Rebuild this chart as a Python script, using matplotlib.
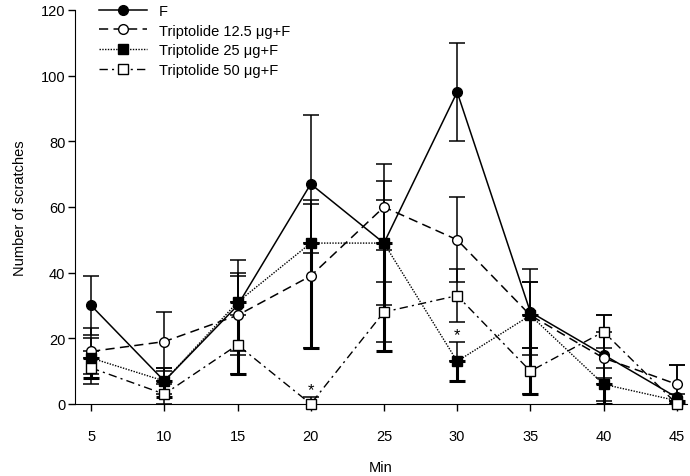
import matplotlib
matplotlib.use("Agg")
import matplotlib.pyplot as plt
from matplotlib.lines import Line2D

plt.rcParams['font.family'] = ['Liberation Sans', 'DejaVu Sans']

# time points (min)
minutes = [5, 10, 15, 20, 25, 30, 35, 40, 45]

# mean number of scratches and error
f_mean = [30, 7, 30, 67, 49, 95, 28, 15, 2]
f_err = [9, 4, 14, 21, 19, 15, 13, 7, 10]

t125_mean = [16, 19, 27, 39, 60, 50, 27, 14, 6]
t125_err = [7, 9, 12, 22, 13, 13, 10, 13, 6]

# 25 ug group: bars drawn downwards (thick) and upwards (thin)
t25_mean = [14, 7, 31, 49, 49, 13, 27, 6, 1]
t25_err_low = [6, 5, 22, 32, 33, 6, 24, 6, 1]
t25_err_up = [6, 4, 9, 13, 13, 6, 10, 5, 2]

t50_mean = [11, 3, 18, 0, 28, 33, 10, 22, 0]
t50_err = [5, 3, 9, 2, 9, 8, 7, 5, 1]

# significance marks
star_x = [20, 30]
star_y = [4.5, 21]

labels = ['F', 'Triptolide 12.5 \u03bcg+F', 'Triptolide 25 \u03bcg+F',
          'Triptolide 50 \u03bcg+F']

fig = plt.figure(figsize=(6.9, 4.77), dpi=100)
ax = fig.add_axes([0.1087, 0.151, 0.887, 0.826])

ls_125 = (0, (6, 3.5))
ls_25 = (0, (1, 1))
ls_50 = (0, (6, 3, 1.5, 3))


def clip_bars(eb):
    # keep markers unclipped but cut error bars at the axis
    for cap in eb[1]:
        cap.set_clip_on(True)
    for col in eb[2]:
        col.set_clip_on(True)


eb = ax.errorbar(minutes, f_mean, yerr=f_err, color='black', lw=1.1, ls='-',
                 marker='o', ms=7, mfc='black', mec='black', capsize=6,
                 elinewidth=1.1, capthick=1.1, clip_on=False, zorder=4)
clip_bars(eb)
eb = ax.errorbar(minutes, t125_mean, yerr=t125_err, color='black', lw=1.1,
                 ls=ls_125, marker='o', ms=7, mfc='white', mec='black',
                 capsize=6, elinewidth=1.1, capthick=1.1, clip_on=False,
                 zorder=4)
clip_bars(eb)
eb = ax.errorbar(minutes, t25_mean, yerr=[[0] * 9, t25_err_up], fmt='none',
                 ecolor='black', capsize=6, elinewidth=1.1, capthick=1.1,
                 zorder=3)
clip_bars(eb)
eb = ax.errorbar(minutes, t25_mean, yerr=[t25_err_low, [0] * 9],
                 color='black', lw=1.0, ls=ls_25, marker='s', ms=6.5,
                 mfc='black', mec='black', capsize=6, elinewidth=2.2,
                 capthick=2.2, clip_on=False, zorder=4)
clip_bars(eb)
eb = ax.errorbar(minutes, t50_mean, yerr=t50_err, color='black', lw=1.0,
                 ls=ls_50, marker='s', ms=6.5, mfc='white',
                 mec='black', capsize=6, elinewidth=1.1, capthick=1.1,
                 clip_on=False, zorder=4)
clip_bars(eb)

for x, y in zip(star_x, star_y):
    ax.text(x, y, '*', ha='center', va='center', fontsize=12)

ax.set_xlim(3.9, 45.7)
ax.set_ylim(0, 120)
ax.set_xticks(minutes)
ax.set_yticks(range(0, 121, 20))
ax.spines['top'].set_visible(False)
ax.spines['right'].set_visible(False)
ax.tick_params(direction='out', length=5, width=1, labelsize=10.5,
               colors='black')
ax.tick_params(axis='x', pad=13)
ax.tick_params(axis='y', pad=2)
ax.set_xlabel('Min', fontsize=10.5, labelpad=12)
ax.set_ylabel('Number of scratches', fontsize=10.5, labelpad=10)

handles = [
    Line2D([], [], color='black', lw=1.1, ls='-', marker='o', ms=7,
           mfc='black', mec='black'),
    Line2D([], [], color='black', lw=1.1, ls=ls_125, marker='o', ms=7,
           mfc='white', mec='black'),
    Line2D([], [], color='black', lw=1.0, ls=ls_25, marker='s', ms=6.5,
           mfc='black', mec='black'),
    Line2D([], [], color='black', lw=1.0, ls=ls_50, marker='s', ms=6.5,
           mfc='white', mec='black'),
]
ax.legend(handles, labels, loc='upper left', frameon=False, fontsize=10.5,
          handlelength=3.3, handletextpad=0.8, labelspacing=0.38,
          borderaxespad=0.0, bbox_to_anchor=(0.03, 1.03))

fig.savefig('out.png', dpi=100)
